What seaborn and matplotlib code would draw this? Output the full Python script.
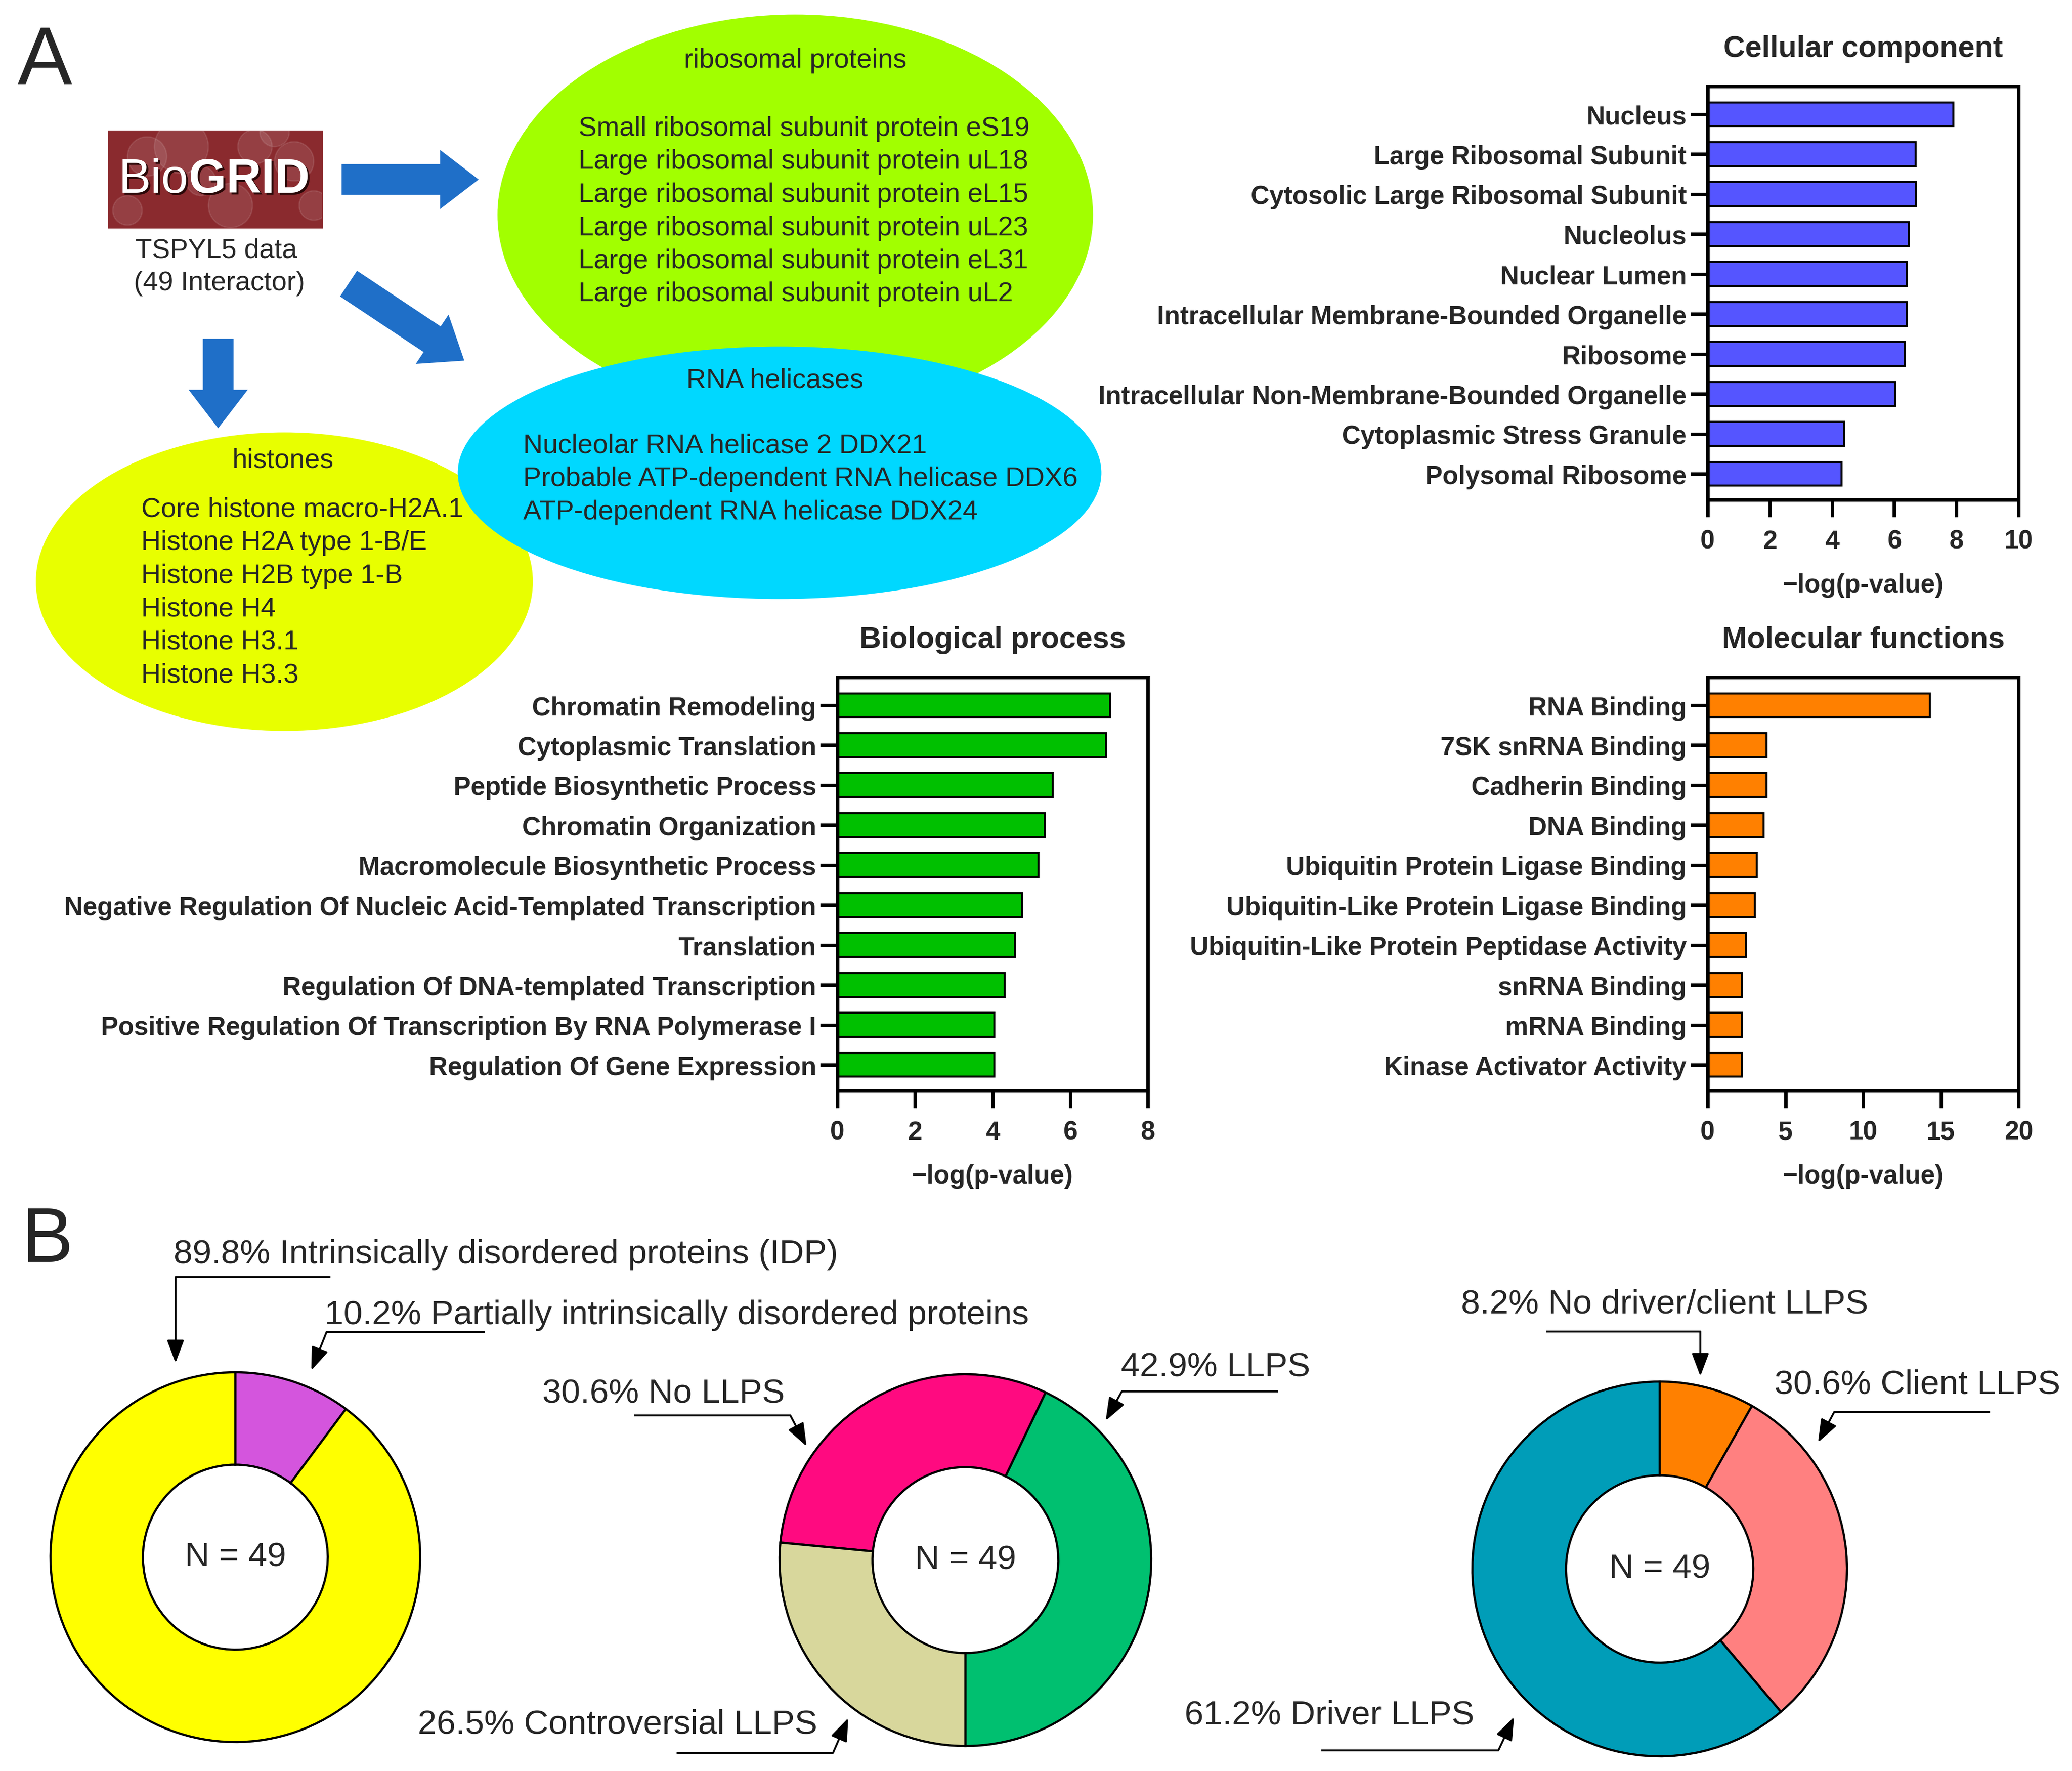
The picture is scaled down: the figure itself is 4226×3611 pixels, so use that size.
import matplotlib
matplotlib.use("Agg")
import matplotlib.pyplot as plt
from matplotlib.patches import Ellipse, Rectangle, Circle, FancyArrow
import seaborn as sns
import pandas as pd
import numpy as np

W, H = 4226, 3612
DPI = 200

# ---- data ----
cc_terms = ["Nucleus", "Large Ribosomal Subunit", "Cytosolic Large Ribosomal Subunit",
            "Nucleolus", "Nuclear Lumen", "Intracellular Membrane-Bounded Organelle",
            "Ribosome", "Intracellular Non-Membrane-Bounded Organelle",
            "Cytoplasmic Stress Granule", "Polysomal Ribosome"]
cc_values = [7.9, 6.68, 6.7, 6.46, 6.4, 6.4, 6.34, 6.03, 4.38, 4.3]

bp_terms = ["Chromatin Remodeling", "Cytoplasmic Translation", "Peptide Biosynthetic Process",
            "Chromatin Organization", "Macromolecule Biosynthetic Process",
            "Negative Regulation Of Nucleic Acid-Templated Transcription", "Translation",
            "Regulation Of DNA-templated Transcription",
            "Positive Regulation Of Transcription By RNA Polymerase I",
            "Regulation Of Gene Expression"]
bp_values = [7.03, 6.92, 5.55, 5.34, 5.18, 4.76, 4.57, 4.31, 4.05, 4.04]

mf_terms = ["RNA Binding", "7SK snRNA Binding", "Cadherin Binding", "DNA Binding",
            "Ubiquitin Protein Ligase Binding", "Ubiquitin-Like Protein Ligase Binding",
            "Ubiquitin-Like Protein Peptidase Activity", "snRNA Binding", "mRNA Binding",
            "Kinase Activator Activity"]
mf_values = [14.3, 3.78, 3.77, 3.6, 3.17, 3.04, 2.45, 2.2, 2.2, 2.2]

idp_labels = ["Partially intrinsically disordered proteins", "Intrinsically disordered proteins (IDP)"]
idp_pct = [10.2, 89.8]
idp_colors = ["#D455DD", "#FFFF00"]

llps_labels = ["LLPS", "No LLPS", "Controversial LLPS"]
llps_pct = [42.9, 30.6, 26.5]
llps_colors = ["#00C070", "#FF0A80", "#D8D79C"]

role_labels = ["No driver/client LLPS", "Client LLPS", "Driver LLPS"]
role_pct = [8.2, 30.6, 61.2]
role_colors = ["#FF8000", "#FF8080", "#009DB8"]

n_total = 49

ribosomal = ["Small ribosomal subunit protein eS19", "Large ribosomal subunit protein uL18",
             "Large ribosomal subunit protein eL15", "Large ribosomal subunit protein uL23",
             "Large ribosomal subunit protein eL31", "Large ribosomal subunit protein uL2"]
helicases = ["Nucleolar RNA helicase 2 DDX21", "Probable ATP-dependent RNA helicase DDX6",
             "ATP-dependent RNA helicase DDX24"]
histones = ["Core histone macro-H2A.1", "Histone H2A type 1-B/E", "Histone H2B type 1-B",
            "Histone H4", "Histone H3.1", "Histone H3.3"]

# ---- style ----
sns.set_style("ticks")
plt.rcParams['font.family'] = ['Liberation Sans', 'DejaVu Sans']
plt.rcParams['axes.edgecolor'] = 'black'

fig = plt.figure(figsize=(W / DPI, H / DPI), dpi=DPI)


def px_axes(x0, y0, x1, y1):
    return fig.add_axes([x0 / W, 1 - y1 / H, (x1 - x0) / W, (y1 - y0) / H])


# background drawing layer in pixel coordinates
bg = fig.add_axes([0, 0, 1, 1])
bg.set_xlim(0, W)
bg.set_ylim(H, 0)
bg.axis('off')

# panel letters
bg.text(36, 130, "A", fontsize=60, va='center', ha='left')
bg.text(44, 2533, "B", fontsize=57, va='center', ha='left')

# BioGRID logo
bg.add_patch(Rectangle((221, 268), 436, 197, color="#8A2A2E", zorder=2))
bubbles = [(300, 320, 40), (370, 300, 55), (520, 300, 35), (600, 330, 40), (470, 420, 45),
           (560, 270, 30), (260, 430, 30), (640, 420, 30), (410, 370, 30)]
for bx, by, br in bubbles:
    c = Circle((bx, by), br, color='white', alpha=0.1, zorder=3)
    bg.add_patch(c)
    c.set_clip_path(Rectangle((221, 268), 436, 197, transform=bg.transData))
for dx, col in [(4, '#2a0808'), (0, 'white')]:
    bg.text(385 + dx, 367 + dx, "Bio", fontsize=35.5, color=col, ha='right', va='center', zorder=4)
    bg.text(385 + dx, 367 + dx, "GRID", fontsize=35.5, color=col, fontweight='bold',
            ha='left', va='center', zorder=4)
bg.text(441, 511, "TSPYL5 data", fontsize=20, ha='center', va='center')
bg.text(447, 578, f"({n_total} Interactor)", fontsize=20, ha='center', va='center')

# blue block arrows
arrow_blue = "#1F6FC8"
for x, y, dx, dy in [(698, 367, 276, 0), (712, 580, 233, 155), (445, 693, 0, 179)]:
    bg.add_patch(FancyArrow(x, y, dx, dy, width=60, head_width=115, head_length=75,
                            length_includes_head=True, color=arrow_blue, zorder=2))

# bubbles with protein names
bg.add_patch(Ellipse((1622, 439), 1212, 814, color="#A2FF00", zorder=1))
bg.add_patch(Ellipse((580, 1187), 1011, 606, color="#E8FF00", zorder=1))
bg.add_patch(Ellipse((1590, 965), 1310, 512, color="#00D8FF", zorder=1.5))

bg.text(1622, 124, "ribosomal proteins", fontsize=20, ha='center', va='center', zorder=5)
for i, s in enumerate(ribosomal):
    bg.text(1180, 263 + i * 67.5, s, fontsize=20, ha='left', va='center', zorder=5)
bg.text(1580, 777, "RNA helicases", fontsize=20, ha='center', va='center', zorder=5)
for i, s in enumerate(helicases):
    bg.text(1067, 910 + i * 67.5, s, fontsize=20, ha='left', va='center', zorder=5)
bg.text(577, 940, "histones", fontsize=20, ha='center', va='center', zorder=5)
for i, s in enumerate(histones):
    bg.text(288, 1040 + i * 67.5, s, fontsize=20, ha='left', va='center', zorder=5)


# ---- enrichment bar charts ----
def go_bar(box, terms, values, color, xmax, step, title):
    ax = px_axes(*box)
    df = pd.DataFrame({'term': terms, 'value': values})
    sns.barplot(data=df, x='value', y='term', ax=ax, color=color, saturation=1,
                edgecolor='black', linewidth=1.5, width=0.6, orient='h')
    ax.set_xlim(0, xmax)
    ax.set_xticks(np.arange(0, xmax + 1, step))
    ax.set_ylim(len(terms) - 1 + 0.65, -0.7)
    ax.set_ylabel('')
    ax.set_xlabel('\u2212log(p-value)', fontsize=19, fontweight='bold', labelpad=14)
    ax.set_title(title, fontsize=22, fontweight='bold', pad=22)
    ax.tick_params(axis='both', length=12.5, width=2.5, labelsize=19, color='black')
    ax.tick_params(axis='x', pad=9)
    ax.tick_params(axis='y', pad=3)
    for t in ax.get_xticklabels() + ax.get_yticklabels():
        t.set_fontweight('bold')
    for s in ax.spines.values():
        s.set_linewidth(2.5)
        s.set_color('black')
        s.set_visible(True)
    ax.set_facecolor('white')
    return ax


go_bar((3483, 177, 4117, 1020), cc_terms, cc_values, "#5555FF", 10, 2, "Cellular component")
go_bar((1708, 1382, 2341, 2225), bp_terms, bp_values, "#00C000", 8, 2, "Biological process")
go_bar((3483, 1382, 4117, 2225), mf_terms, mf_values, "#FF8000", 20, 5, "Molecular functions")


# ---- donuts ----
def donut(cx, cy, r, pct, colors, start, ccw):
    pad = 1.05
    ax = px_axes(cx - pad * r, cy - pad * r, cx + pad * r, cy + pad * r)
    ax.pie(pct, colors=colors, startangle=start, counterclock=ccw,
           wedgeprops=dict(width=0.5, edgecolor='black', linewidth=1.6))
    ax.set_xlim(-pad, pad)
    ax.set_ylim(-pad, pad)
    ax.set_facecolor('none')
    ax.text(0, 0, f"N = {n_total}", fontsize=25, ha='center', va='center')
    return ax


donut(480, 3176, 377, idp_pct, idp_colors, 90, False)
donut(1969, 3182, 379, llps_pct, llps_colors, -90, True)
donut(3385, 3200, 382, role_pct, role_colors, 90, False)


# ---- call-out labels with elbow arrows ----
def callout(text, tx, ty, points):
    bg.text(tx, ty, text, fontsize=25, ha='left', va='center')
    xs = [p[0] for p in points[:-1]]
    ys = [p[1] for p in points[:-1]]
    bg.plot(xs, ys, color='black', lw=1.4, solid_capstyle='butt')
    bg.annotate('', xy=points[-1], xytext=points[-2],
                arrowprops=dict(arrowstyle='-|>,head_length=0.8,head_width=0.3',
                                color='black', lw=1.4, shrinkA=0, shrinkB=0,
                                mutation_scale=18))


callout(f"{idp_pct[1]}% {idp_labels[1]}", 354, 2558, [(674, 2605), (358, 2605), (358, 2780)])
callout(f"{idp_pct[0]}% {idp_labels[0]}", 662, 2682, [(989, 2717), (666, 2717), (635, 2795)])
callout(f"{llps_pct[1]}% {llps_labels[1]}", 1106, 2843, [(1293, 2887), (1612, 2887), (1645, 2950)])
callout(f"{llps_pct[0]}% {llps_labels[0]}", 2286, 2789, [(2607, 2838), (2288, 2838), (2255, 2898)])
callout(f"{llps_pct[2]}% {llps_labels[2]}", 852, 3517, [(1380, 3575), (1699, 3575), (1730, 3504)])
callout(f"{role_pct[0]}% {role_labels[0]}", 2980, 2660, [(3154, 2716), (3468, 2716), (3468, 2807)])
callout(f"{role_pct[1]}% {role_labels[1]}", 3619, 2824, [(4059, 2880), (3741, 2880), (3708, 2942)])
callout(f"{role_pct[2]}% {role_labels[2]}", 2416, 3498, [(2695, 3570), (3056, 3570), (3088, 3502)])

fig.savefig("out.png", dpi=DPI, facecolor='white')
